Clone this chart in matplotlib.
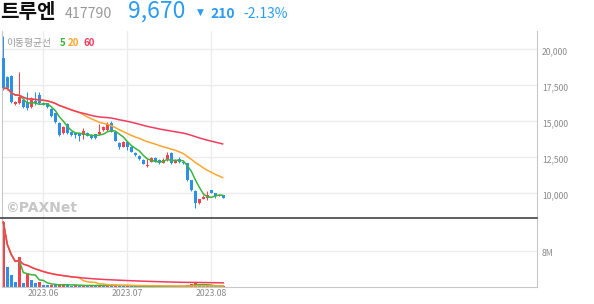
import matplotlib
matplotlib.use('Agg')
import matplotlib.pyplot as plt
from matplotlib.lines import Line2D
import numpy as np
import pandas as pd

plt.rcParams['font.family'] = ['Noto Sans CJK KR', 'DejaVu Sans']

# ---------------- data ----------------
opens = [19375, 18100, 18150, 16180, 16250, 16480, 16360, 16010, 16400, 16830,
         16290, 16250, 15830, 15550, 14900, 14170, 14810, 14280, 14170, 14170,
         14050, 14170, 14050, 14100, 14100, 14400, 14400, 14860, 14280, 13510,
         13240, 13580, 13240, 12820, 12600, 12300, 11870, 12190, 12450, 12300,
         12120, 12300, 12820, 12120, 12350, 12150, 12080, 10920, 10160, 9310,
         9600, 9650, 10230, 10000, 9800, 9880]
highs = [20900, 18150, 18200, 16400, 18400, 16550, 17050, 16700, 17050, 17050,
         16350, 16280, 15900, 15600, 14950, 14700, 14850, 14350, 14200, 14200,
         14500, 14250, 14100, 14150, 14810, 14650, 14970, 15050, 14300, 13550,
         13650, 13600, 13300, 12850, 12650, 12400, 12400, 12500, 12500, 12350,
         12450, 12900, 12850, 12350, 12500, 12200, 12100, 10950, 10200, 9600,
         9900, 10150, 10250, 10050, 9950, 9900]
lows = [17200, 17200, 16300, 16150, 16180, 15950, 15780, 15900, 16100, 16200,
        16100, 15900, 15300, 14900, 14000, 14100, 14100, 14000, 13820, 13600,
        13800, 13950, 13780, 13750, 14050, 14350, 14350, 14250, 13600, 13050,
        13200, 12990, 12850, 12600, 12300, 12000, 11850, 12150, 12200, 12050,
        12100, 12250, 12050, 12100, 12100, 12050, 10850, 10150, 9000, 9280,
        9580, 9500, 10000, 9700, 9780, 9640]
closes = [17290, 17290, 16360, 16360, 16710, 16010, 15900, 16480, 16250, 16250,
          16130, 16010, 15390, 14970, 14070, 14620, 14170, 14050, 14050, 13980,
          14330, 13980, 13820, 13850, 14280, 14580, 14810, 14280, 13650, 13240,
          13580, 13240, 12890, 12660, 12350, 12040, 12000, 12430, 12250, 12120,
          12300, 12660, 12080, 12300, 12150, 12080, 10920, 10230, 9310, 9580,
          9760, 9900, 10040, 9810, 9880, 9670]
volumes_m = [14.4, 4.5, 2.7, 1.2, 6.7, 0.95, 3.2, 1.55, 0.95, 1.2,
             0.45, 0.42, 0.48, 0.40, 0.62, 0.66, 0.35, 0.30, 0.38, 0.33,
             0.40, 0.28, 0.34, 0.30, 0.45, 0.32, 0.40, 0.35, 0.42, 0.30,
             0.25, 0.28, 0.22, 0.18, 0.20, 0.15, 0.18, 0.14, 0.12, 0.13,
             0.12, 0.16, 0.14, 0.10, 0.12, 0.10, 0.55, 0.60, 0.85, 0.35,
             0.30, 0.35, 0.25, 0.20, 0.15, 0.18]
month_idx = [10, 31, 52]
month_labels = ['2023.06', '2023.07', '2023.08']
price_ticks = [10000, 12500, 15000, 17500, 20000]
price_labels = ['10,000', '12,500', '15,000', '17,500', '20,000']
vol_ticks = [8.0]
vol_labels = ['8M']
ma_periods = [5, 20, 60]

# ---------------- style ----------------
UP = '#f0434f'
DOWN = '#2d8fe6'
MA_COLORS = {5: '#3cb43c', 20: '#fba62f', 60: '#f23c5e'}
GRID = '#ececec'
TXT = '#8a8a8a'
BLUE_TXT = '#2a9cf2'

W, H = 594, 304
fig = plt.figure(figsize=(W / 100, H / 100), dpi=100)


def fx(px):
    return px / W


def fy(py):
    return 1 - py / H


L, R = 2, 537
TOP, SEP, BOT = 31, 217.7, 287
ax = fig.add_axes([fx(L), fy(SEP), fx(R) - fx(L), fy(TOP) - fy(SEP)])
axv = fig.add_axes([fx(L), fy(BOT), fx(R) - fx(L), fy(SEP) - fy(BOT)], sharex=ax)

n = len(closes)
x = np.arange(n)
o = np.array(opens, float)
h = np.array(highs, float)
l = np.array(lows, float)
c = np.array(closes, float)
v = np.array(volumes_m, float)

xmin = (L - 3.3) / 4.0
xmax = (R - 3.3) / 4.0
ax.set_xlim(xmin, xmax)

# price scale: 20000 at y=49.3, 10000 at y=193.3
ppp = 10000 / (193.3 - 49.3)
ytop = 20000 + (49.3 - TOP) * ppp
ybot = 20000 - (SEP - 49.3) * ppp
ax.set_ylim(ybot, ytop)
# volume scale: 8M at y=251, 0 at y=287
vpp = 8.0 / (BOT - 251)
axv.set_ylim(0, (BOT - SEP) * vpp)

for a in (ax, axv):
    a.set_facecolor('none')
    a.tick_params(left=False, right=False, bottom=False, top=False,
                  labelleft=False, labelbottom=False)
    for m in month_idx:
        a.axvline(m, color=GRID, lw=1.0, zorder=0)
    a.spines['top'].set_visible(False)
    a.spines['left'].set_color('#c8c8c8')
    a.spines['right'].set_color('#c8c8c8')
    a.spines['left'].set_linewidth(0.8)
    a.spines['right'].set_linewidth(0.8)

ax.spines['bottom'].set_visible(False)
axv.spines['bottom'].set_color('#c8c8c8')
axv.spines['bottom'].set_linewidth(0.8)

for t in price_ticks:
    ax.axhline(t, color=GRID, lw=1.0, zorder=0)
for t in vol_ticks:
    axv.axhline(t, color=GRID, lw=1.0, zorder=0)

# candles
colors = [UP if cc >= oo else DOWN for oo, cc in zip(o, c)]
ax.vlines(x, l, h, colors=colors, lw=0.75, zorder=2)
body_bottom = np.minimum(o, c)
body_h = np.maximum(np.abs(c - o), 30)
ax.bar(x, body_h, bottom=body_bottom, width=0.78, color=colors, lw=0, zorder=3)

# moving averages
cs = pd.Series(c)
for p in ma_periods:
    ma = cs.rolling(p, min_periods=1).mean()
    ax.plot(x, ma, color=MA_COLORS[p], lw=1.1, zorder=4, solid_capstyle='butt')

# volume
vcolors = [UP] + [UP if v[i] >= v[i - 1] else DOWN for i in range(1, n)]
axv.bar(x, v, width=0.78, color=vcolors, lw=0, zorder=2)
vs = pd.Series(v)
for p in ma_periods:
    ma = vs.rolling(p, min_periods=1).mean()
    axv.plot(x, ma, color=MA_COLORS[p], lw=1.1, zorder=4)

# separator between price and volume panes
fig.add_artist(Line2D([fx(0), fx(R)], [fy(SEP), fy(SEP)], color='#333333', lw=1.1, zorder=10))

# right-side labels
for t, lab in zip(price_ticks, price_labels):
    ax.annotate(lab, xy=(1, t), xycoords=('axes fraction', 'data'),
                xytext=(3.5, -1.5), textcoords='offset points',
                ha='left', va='center', fontsize=6.2, color=TXT)
for t, lab in zip(vol_ticks, vol_labels):
    axv.annotate(lab, xy=(1, t), xycoords=('axes fraction', 'data'),
                 xytext=(3.5, -1.5), textcoords='offset points',
                 ha='left', va='center', fontsize=6.2, color=TXT)

# month labels
for m, lab in zip(month_idx, month_labels):
    axv.annotate(lab, xy=(m, 0), xycoords=('data', 'axes fraction'),
                 xytext=(0, -1.5), textcoords='offset points',
                 ha='center', va='top', fontsize=6.3, color=TXT)

# legend of MAs
fig.text(fx(6.5), fy(46), '이동평균선', fontsize=7.0, color='#9a9a9a', va='baseline')
fig.text(fx(59.5), fy(46), '5', fontsize=7.0, color=MA_COLORS[5], va='baseline', fontweight='bold')
fig.text(fx(68), fy(46), '20', fontsize=7.0, color=MA_COLORS[20], va='baseline', fontweight='bold')
fig.text(fx(83), fy(46), '60', fontsize=7.0, color=MA_COLORS[60], va='baseline', fontweight='bold')

# watermark
fig.text(fx(5.5), fy(211.5), '©PAXNet', fontsize=10, color='#c6c6c6', fontweight='bold',
         family='DejaVu Sans', va='baseline')

# header
fig.text(fx(0), fy(18), '트루엔', fontsize=14.5, fontweight='bold', color='#111111', va='baseline')
fig.text(fx(65), fy(17.5), '417790', fontsize=10.2, color='#999999', va='baseline')
fig.text(fx(128), fy(18), '9,670', fontsize=16.5, color=BLUE_TXT, va='baseline')
fig.text(fx(197), fy(14.5), '▼', fontsize=6.5, color=BLUE_TXT, va='baseline', family='DejaVu Sans')
fig.text(fx(210), fy(17.5), '210', fontsize=10, fontweight='bold', color=BLUE_TXT, va='baseline')
fig.text(fx(243), fy(17.5), '-2.13%', fontsize=10, color=BLUE_TXT, va='baseline')

fig.savefig('out.png', dpi=100, facecolor='white')
